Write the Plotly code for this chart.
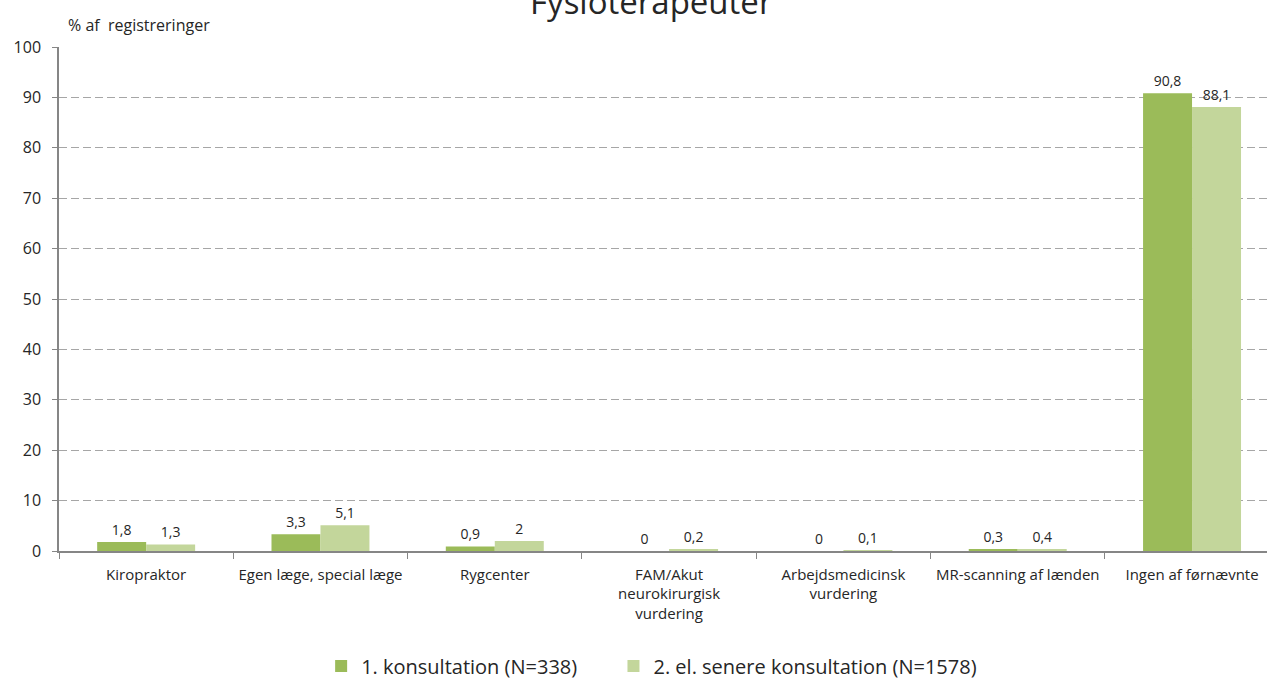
import plotly.graph_objects as go

categories = [
    "Kiropraktor",
    "Egen læge, special læge",
    "Rygcenter",
    "FAM/Akut<br>neurokirurgisk<br>vurdering",
    "Arbejdsmedicinsk<br>vurdering",
    "MR-scanning af lænden",
    "Ingen af førnævnte",
]
first_consult = [1.8, 3.3, 0.9, 0, 0, 0.3, 90.8]
later_consult = [1.3, 5.1, 2, 0.2, 0.1, 0.4, 88.1]
series_names = ["1. konsultation (N=338)", "2. el. senere konsultation (N=1578)"]
y_ticks = list(range(0, 101, 10))

DARK_GREEN = "#9BBB59"
LIGHT_GREEN = "#C3D69B"
TEXT = "#262626"
AXIS = "#868686"
FONT = "Open Sans, Arial, sans-serif"


def _lbl(values):
    return [f"{v:g}".replace(".", ",") for v in values]


fig = go.Figure()
for name, vals, col, leg in [(series_names[0], first_consult, DARK_GREEN, "legend"),
                             (series_names[1], later_consult, LIGHT_GREEN, "legend2")]:
    fig.add_trace(go.Bar(
        x=categories, y=vals, name=name, marker_color=col,
        marker_line_width=0, legend=leg, showlegend=True,
        text=_lbl(vals), textposition="outside", cliponaxis=False,
        textfont=dict(size=14, color=TEXT, family=FONT),
    ))

_leg = dict(orientation="h", xanchor="left", y=-0.228, yanchor="middle",
            font=dict(size=20, color=TEXT), itemwidth=30,
            bgcolor="rgba(0,0,0,0)")

fig.update_layout(
    width=1267, height=682, showlegend=True,
    font_family=FONT, font_color=TEXT,
    paper_bgcolor="white", plot_bgcolor="white",
    barmode="group", bargap=0.438, bargroupgap=0,
    margin=dict(l=59, r=0, t=47, b=131, autoexpand=False),
    title=dict(text="Fysioterapeuter", x=0.514, xanchor="center",
               y=0.997, yanchor="middle",
               font=dict(size=33, color=TEXT, family=FONT)),
    legend=dict(_leg, x=0.217),
    legend2=dict(_leg, x=0.459),
)
fig.update_xaxes(
    range=[-0.5, 6.43], automargin=False,
    showline=True, linecolor=AXIS, linewidth=1.5,
    ticks="outside", tickson="boundaries", ticklen=6, tickcolor=AXIS,
    ticklabelstandoff=9,
    tickfont=dict(size=15, color=TEXT), showgrid=False,
)
fig.update_yaxes(
    range=[0, 100], tickvals=y_ticks, automargin=False,
    showline=True, linecolor=AXIS, linewidth=1.5,
    ticks="outside", ticklen=5, tickcolor=AXIS, ticklabelstandoff=8,
    tickfont=dict(size=16, color=TEXT),
    showgrid=True, gridcolor="#A6A6A6", griddash="8px,4px", gridwidth=1,
    zeroline=False,
)
fig.add_annotation(text="% af  registreringer", xref="paper", yref="paper",
                   x=0.006, y=1.0, xanchor="left", yanchor="bottom",
                   yshift=9, showarrow=False,
                   font=dict(size=16, color=TEXT, family=FONT))

# page body has an 8px default margin; drop it so the figure sits at 0,0
fig.write_html("out.html", config={"displayModeBar": False},
               post_script="document.body.style.margin='0';")
